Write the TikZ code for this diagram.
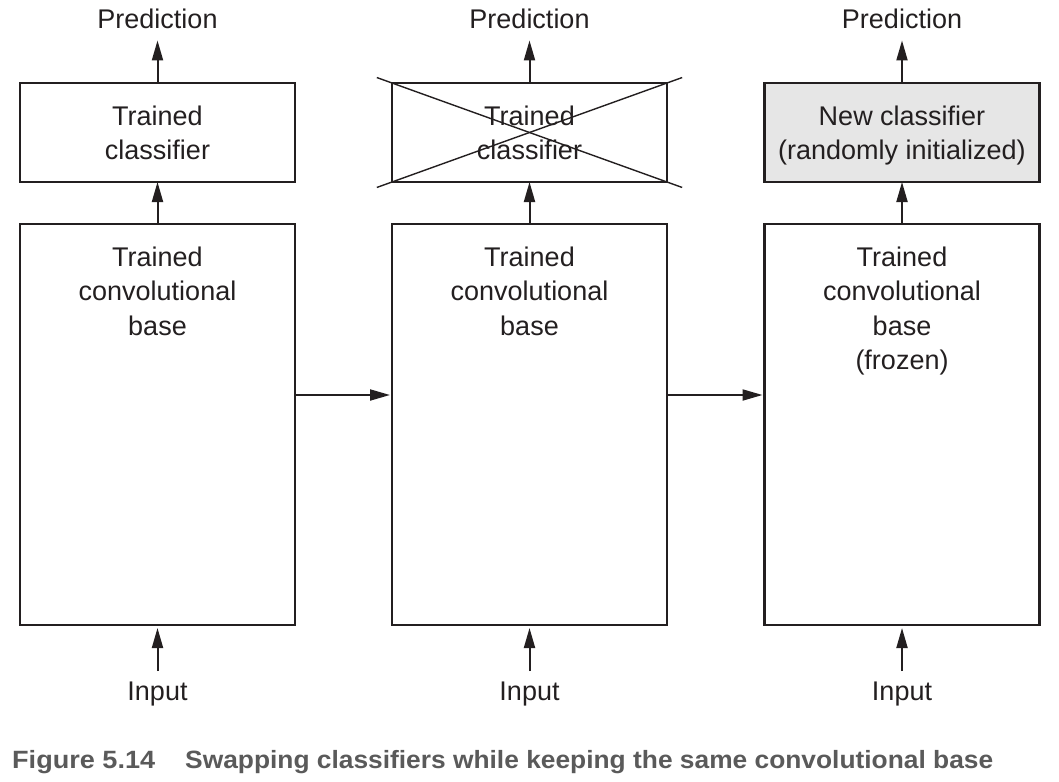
\documentclass[tikz,border=0pt]{standalone}
\usepackage{fontspec}
\setmainfont{Liberation Sans}
\usepackage{graphicx}
\usetikzlibrary{arrows.meta,calc}
\definecolor{ink}{HTML}{231F20}
\definecolor{capgray}{HTML}{5A5A5A}
\definecolor{newfill}{HTML}{E6E6E6}
\begin{document}
\begin{tikzpicture}[x=1pt,y=-1pt,
  lbl/.style={font=\fontsize{27}{34.5}\selectfont, text=ink, inner sep=0pt, align=center},
  box/.style={draw=ink, line width=2.2pt, outer sep=0pt, inner sep=0pt, minimum width=275pt},
  clsbox/.style={box, minimum height=99pt},
  basebox/.style={box, minimum height=401pt},
  arr/.style={draw=ink, line width=2pt, -{Triangle[length=20pt,width=11pt]}},
  cross/.style={draw=ink, line width=1.4pt},
  capt/.style={font=\fontsize{25}{30}\selectfont\bfseries, text=capgray, inner sep=0pt, anchor=base west}]
\useasboundingbox (0,0) rectangle (1059,781);

% boxes
\node[clsbox] (c1) at (157.5,132.5) {};
\node[clsbox] (c2) at (529.5,132.5) {};
\node[clsbox, fill=newfill] (c3) at (902,132.5) {};
\node[basebox] (b1) at (157.5,424.5) {};
\node[basebox] (b2) at (529.5,424.5) {};
\node[basebox] (b3) at (902,424.5) {};

% labels in boxes
\node[lbl, anchor=north] (t1) at (157.5,105.5) {Trained\\classifier};
\node[lbl, anchor=north] (t2) at (529.5,105.5) {Trained\\classifier};
\node[lbl, anchor=north] (t3) at (902,105.5) {New classifier\\(randomly initialized)};
\node[lbl, anchor=north] (u1) at (157.5,246.5) {Trained\\convolutional\\base};
\node[lbl, anchor=north] (u2) at (529.5,246.5) {Trained\\convolutional\\base};
\node[lbl, anchor=north] (u3) at (902,246.5) {Trained\\convolutional\\base\\(frozen)};

% prediction and input labels
\node[lbl, anchor=base] (p1) at (157.5,29) {Prediction};
\node[lbl, anchor=base] (p2) at (529.5,29) {Prediction};
\node[lbl, anchor=base] (p3) at (902,29) {Prediction};
\node[lbl, anchor=base] (i1) at (157.5,700) {Input};
\node[lbl, anchor=base] (i2) at (529.5,700) {Input};
\node[lbl, anchor=base] (i3) at (902,700) {Input};

% cross over the discarded classifier
\draw[cross] ($(c2.south east)!1.055!(c2.north west)$) -- ($(c2.north west)!1.055!(c2.south east)$);
\draw[cross] ($(c2.north east)!1.055!(c2.south west)$) -- ($(c2.south west)!1.055!(c2.north east)$);

% vertical arrows
\foreach \k in {1,2,3}{
  \draw[arr, shorten >=11pt] (c\k.north) -- (p\k.south);
  \draw[arr] (b\k.north) -- (c\k.south);
  \draw[arr, shorten <=10pt, shorten >=3pt] (i\k.north) -- (b\k.south);
}

% horizontal arrows
\draw[arr, shorten >=2pt] ([yshift=29.5pt]b1.east) -- ([yshift=29.5pt]b2.west);
\draw[arr, shorten >=2pt] ([yshift=29.5pt]b2.east) -- ([yshift=29.5pt]b3.west);

% caption
\node[capt] (cap1) at (12,768) {\resizebox{143pt}{\height}{Figure 5.14}};
\node[capt] (cap2) at (185,768) {\resizebox{808pt}{\height}{Swapping classifiers while keeping the same convolutional base}};
\end{tikzpicture}
\end{document}
